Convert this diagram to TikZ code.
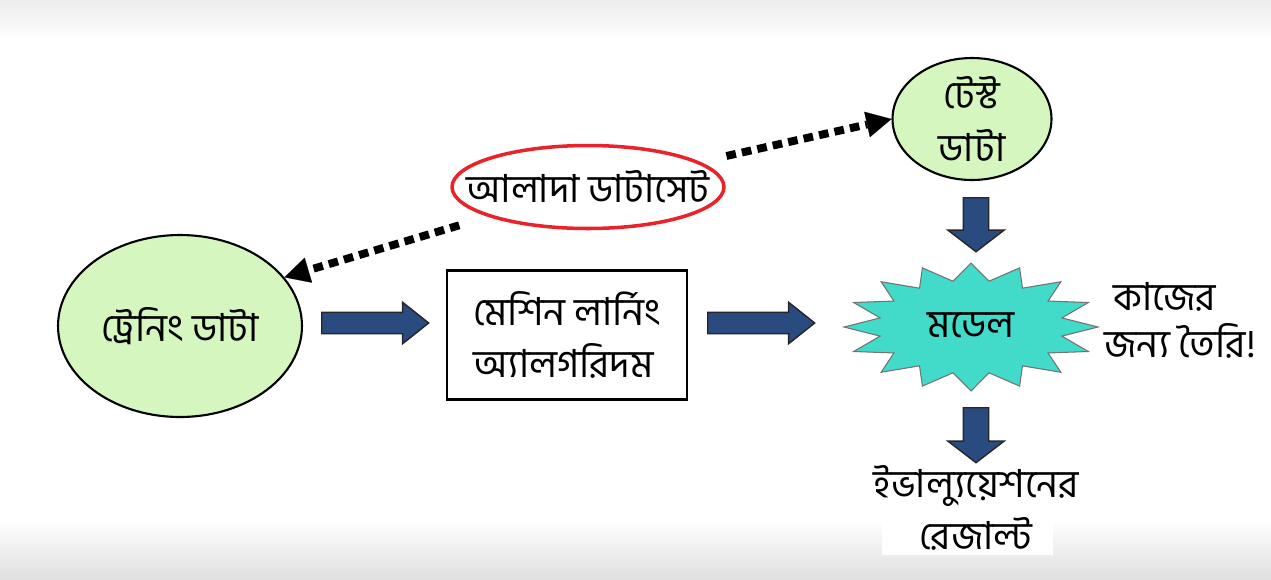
\documentclass[tikz,border=0pt]{standalone}
\usepackage{fontspec}
\newfontfamily\bnfont[Script=Bengali]{Hind Siliguri}
\usetikzlibrary{shapes.geometric,shapes.arrows,arrows.meta}
\definecolor{datagreen}{RGB}{214,246,192}
\definecolor{modelteal}{RGB}{66,218,200}
\definecolor{flowblue}{RGB}{42,75,128}
\definecolor{markred}{RGB}{232,35,43}

\begin{document}
\begin{tikzpicture}[x=0.02cm, y=-0.02cm,
    font=\bnfont\fontsize{22}{30}\selectfont,
    datanode/.style={ellipse, draw, line width=1.2pt, fill=datagreen, inner sep=0pt},
    algobox/.style={draw, line width=1.6pt, fill=white, align=left, minimum width=4.8cm, minimum height=2.58cm},
    flowarrow/.style={single arrow, draw=black!85, line width=0.8pt, fill=flowblue, inner sep=0pt, anchor=tail},
    dotarrow/.style={line width=4.5pt, dash pattern=on 5.5pt off 3.5pt, -{Triangle[width=0.52cm, length=0.5cm, line width=0.1pt]}},
    modelstar/.style={draw=black!55, line width=0.6pt, fill=modelteal}]
    \useasboundingbox (0,0) rectangle (1271,579);

    % Background
    \fill[white] (0,0) rectangle (1271,579);
    \shade[top color=gray!15, bottom color=white] (0,0) rectangle (1271,40);
    \shade[top color=white, bottom color=gray!25] (0,520) rectangle (1271,579);
    \fill[white] (882,465) rectangle (1053,555);

    % Starburst behind the model
    \draw[modelstar] (971,263) \foreach \k in {1,...,31}{
        -- ({971+(1-0.27*mod(\k,2))*127*sin(\k*11.25)}, {327-(1-0.27*mod(\k,2))*64*cos(\k*11.25)})} -- cycle;

    \node[datanode, minimum width=4.88cm, minimum height=3.64cm] (train) at (180,326) {ট্রেনিং ডাটা};
    \node[algobox] (algo) at (567,335) {মেশিন লার্নিং\\অ্যালগরিদম};
    \node[datanode, minimum width=3.18cm, minimum height=2.44cm, align=center] (test) at (972,119) {টেস্ট\\ডাটা};
    \node[ellipse, draw=markred, line width=2pt, minimum width=5.44cm, minimum height=1.66cm] (sep) at (588,187) {};
    \node (septext) at (sep) {আলাদা ডাটাসেট};
    \node (model) at (971,325) {মডেল};
    \node (ready) at (1165,297) {কাজের};
    \node (readyb) at (1180,341) {জন্য তৈরি!};
    \node[align=center] (eval) at (976,508) {ইভাল্যুয়েশনের\\রেজাল্ট};

    % Block arrows
    \node[flowarrow, minimum height=2.14cm, single arrow head extend=0.2cm, single arrow tip angle=77] (toalgo) at (321,323) {\rule{0pt}{0.4cm}};
    \node[flowarrow, minimum height=2.14cm, single arrow head extend=0.2cm, single arrow tip angle=77] (tomodel) at (707,323) {\rule{0pt}{0.4cm}};
    \node[flowarrow, rotate=-90, minimum height=1.08cm, single arrow head extend=0.31cm, single arrow tip angle=105] (testdown) at (976,197) {\rule{0pt}{0.48cm}};
    \node[flowarrow, rotate=-90, minimum height=1.1cm, single arrow head extend=0.31cm, single arrow tip angle=105] (evaldown) at (976,407) {\rule{0pt}{0.48cm}};

    % Dotted split arrows
    \draw[dotarrow, shorten <=0.6cm] (sep) -- (train.25);
    \draw[dotarrow, shorten <=0.54cm] (sep) -- (test.west);
\end{tikzpicture}
\end{document}
